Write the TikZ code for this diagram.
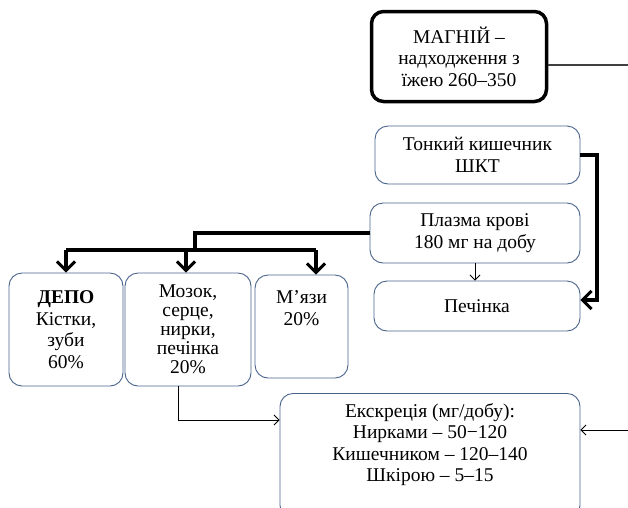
\documentclass[tikz,border=0pt]{standalone}
\usepackage{fontspec}
\setmainfont{Liberation Serif}
\usetikzlibrary{arrows.meta}
\definecolor{boxline}{RGB}{72,98,138}

\begin{document}
\begin{tikzpicture}[x=1pt, y=-1pt, font=\fontsize{19.5}{21.5}\selectfont,
  box/.style={draw=boxline, line width=0.9pt, rounded corners=13pt, align=center, inner sep=2pt},
  main/.style={draw=black, line width=3.5pt, rounded corners=12pt, align=center},
  flow/.style={line width=4pt, -{Straight Barb[length=9pt,width=18pt,line width=3pt]}},
  feed/.style={line width=0.9pt, -{Straight Barb[length=5pt,width=10pt]}}]
  \useasboundingbox (0,0) rectangle (628,507);
  \clip (0,0) rectangle (628,507);
  \node[main, minimum width=175pt, minimum height=90pt] (mg) at (459,56.5) {МАГНІЙ –\\ надходження з\\ їжею 260–350};
  \node[box, minimum width=205pt, minimum height=58pt] (tk) at (477.5,155) {Тонкий кишечник\\ ШКТ};
  \node[box, minimum width=210pt, minimum height=60pt] (pl) at (475,233) {Плазма крові\\ 180 мг на добу};
  \node[box, minimum width=206pt, minimum height=50pt] (pc) at (477,306) {Печінка};
  \node[box, minimum width=114pt, minimum height=113pt] (depo) at (66,329.5) {\textbf{ДЕПО}\\ Кістки,\\ зуби\\ 60\%};
  \node[box, minimum width=126pt, minimum height=113pt, font=\fontsize{19.5}{19}\selectfont] (brain) at (188,329.5) {Мозок,\\ серце,\\ нирки,\\ печінка\\ 20\%};
  \node[box, minimum width=93pt, minimum height=103pt, text depth=37pt] (musc) at (301.5,326.5) {М’язи\\ 20\%};
  \node[box, minimum width=300pt, minimum height=125pt, text depth=27pt, anchor=north] (exc) at (430,393) {Екскреція (мг/добу):\\ Нирками – 50−120\\ Кишечником – 120–140\\ Шкірою – 5–15};

  % inflow from food
  \coordinate (mgout) at (628,65);
  \draw[line width=1.2pt, draw=black!75] (mg.east |- mgout) -- (mgout);
  \draw[flow] (tk.east) -- ++(17,0) |- ([yshift=6pt]pc.east);
  \draw[feed] (pl.south) -- (pl.south |- pc.north);

  % distribution to tissues
  \coordinate (split) at (195,250);
  \coordinate (b1) at (66,250);
  \coordinate (b2) at (186,250);
  \coordinate (b3) at (316,250);
  \draw[line width=4pt] (pl.west) -| (split) (b1) -- (b3);
  \foreach \b/\n in {b1/depo, b2/brain, b3/musc}
    \draw[flow] (\b) -- (\b |- \n.north);

  % excretion
  \coordinate (bend) at (178,420);
  \coordinate (excin) at (628,430);
  \draw[feed] (bend |- brain.south) -- (bend) -- (bend -| exc.west);
  \draw[feed] (excin) -- (excin -| exc.east);
\end{tikzpicture}
\end{document}
